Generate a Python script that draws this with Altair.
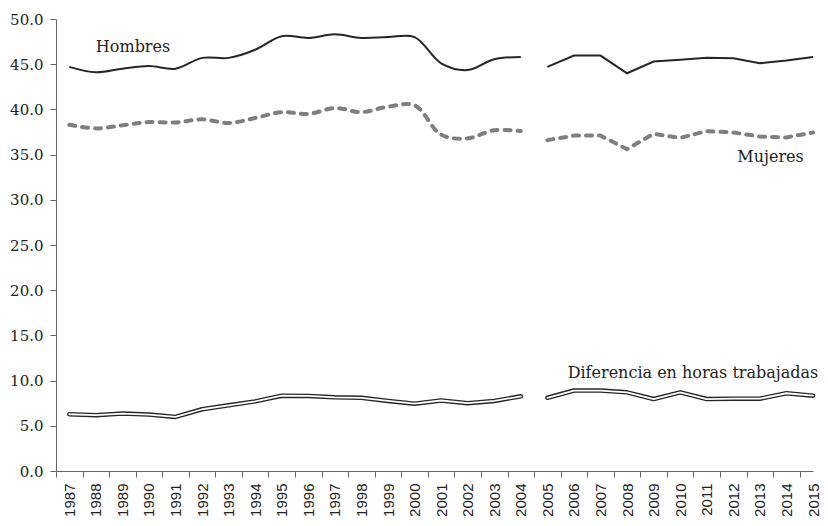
import altair as alt
import pandas as pd

years = list(range(1987, 2016))
hombres = [44.7, 44.1, 44.5, 44.8, 44.5, 45.7, 45.7, 46.6, 48.1, 47.9,
           48.3, 47.9, 48.0, 48.0, 45.1, 44.35, 45.55, 45.8,
           44.7, 45.95, 45.95, 44.0, 45.3, 45.5, 45.7, 45.65, 45.1, 45.4, 45.8]
mujeres = [38.3, 37.9, 38.25, 38.6, 38.55, 38.9, 38.5, 39.05, 39.7, 39.5,
           40.15, 39.7, 40.3, 40.45, 37.2, 36.8, 37.7, 37.6,
           36.6, 37.1, 37.1, 35.6, 37.3, 36.85, 37.6, 37.45, 37.0, 36.9, 37.45]
diferencia = [6.28, 6.17, 6.35, 6.24, 5.98, 6.83, 7.27, 7.7, 8.33, 8.3,
              8.15, 8.1, 7.75, 7.45, 7.8, 7.5, 7.75, 8.26,
              8.1, 8.9, 8.9, 8.7, 7.96, 8.7, 7.96, 8.0, 8.0, 8.6, 8.33]

label_text = ["Hombres", "Mujeres", "Diferencia en horas trabajadas"]
label_year = [1989.4, 2013.4, 2015.2]
label_value = [46.9, 34.7, 10.85]
label_align = ["center", "center", "right"]

rows = []
for name, vals in [("Hombres", hombres), ("Mujeres", mujeres), ("Diferencia", diferencia)]:
    for y, v in zip(years, vals):
        rows.append({"year": y, "value": v, "series": name,
                     "seg": "a" if y <= 2004 else "b"})
df = pd.DataFrame(rows)
labels = pd.DataFrame({"text": label_text, "year": label_year,
                       "value": label_value, "align": label_align})

W, H = 757, 452
half = W / 28.5 / 2

x = alt.X("year:Q",
          scale=alt.Scale(domain=[1986.5, 2015], nice=False, zero=False),
          axis=alt.Axis(values=years, format="d", title=None, labelAngle=270,
                        labelFont="Liberation Sans", labelFontSize=15,
                        labelColor="#222222", labelPadding=6, tickSize=6,
                        tickOffset=-half, labelOffset=half, labelFlush=False,
                        labelOverlap=False, labelSeparation=0, labelBound=False,
                        domainColor="#666666", tickColor="#666666", grid=False))
y = alt.Y("value:Q",
          scale=alt.Scale(domain=[0, 50], nice=False),
          axis=alt.Axis(values=list(range(0, 51, 5)), format=".1f", title=None,
                        labelFont="DejaVu Serif", labelFontSize=15,
                        labelColor="#222222", labelPadding=7, tickSize=6,
                        domainColor="#666666", tickColor="#666666", grid=False))

base = alt.Chart(df).encode(x=x, y=y)

def sel(series, seg=None):
    expr = f"datum.series == '{series}'"
    if seg:
        expr += f" && datum.seg == '{seg}'"
    return expr

dash = [6, 7]
h1 = base.transform_filter(sel("Hombres", "a")).mark_line(
    color="#262626", strokeWidth=2, interpolate="catmull-rom")
h2 = base.transform_filter(sel("Hombres", "b")).mark_line(
    color="#262626", strokeWidth=2, interpolate="linear")
m1 = base.transform_filter(sel("Mujeres", "a")).mark_line(
    color="#7f7f7f", strokeWidth=4, strokeDash=dash, strokeCap="round",
    interpolate="catmull-rom")
m2 = base.transform_filter(sel("Mujeres", "b")).mark_line(
    color="#7f7f7f", strokeWidth=4, strokeDash=dash, strokeCap="round",
    interpolate="linear")
d_out = base.transform_filter(sel("Diferencia")).mark_line(
    color="#262626", strokeWidth=4.5, strokeCap="round", strokeJoin="round"
).encode(detail="seg:N")
d_in = base.transform_filter(sel("Diferencia")).mark_line(
    color="white", strokeWidth=1.8, strokeCap="round", strokeJoin="round"
).encode(detail="seg:N")

txt_c = alt.Chart(labels).transform_filter("datum.align == 'center'").mark_text(
    font="DejaVu Serif", fontSize=16, color="#222222", align="center", baseline="middle"
).encode(x=x, y=y, text="text:N")
txt_r = alt.Chart(labels).transform_filter("datum.align == 'right'").mark_text(
    font="DejaVu Serif", fontSize=16, color="#222222", align="right", baseline="middle"
).encode(x=x, y=y, text="text:N")

chart = alt.layer(h1, h2, m1, m2, d_out, d_in, txt_c, txt_r).properties(
    width=W, height=H,
    autosize=alt.AutoSizeParams(type="none"),
    padding={"left": 48, "top": 11, "right": 7, "bottom": 45},
).configure_view(stroke=None)

chart.save("out.html", embed_options={"renderer": "svg", "actions": False})
